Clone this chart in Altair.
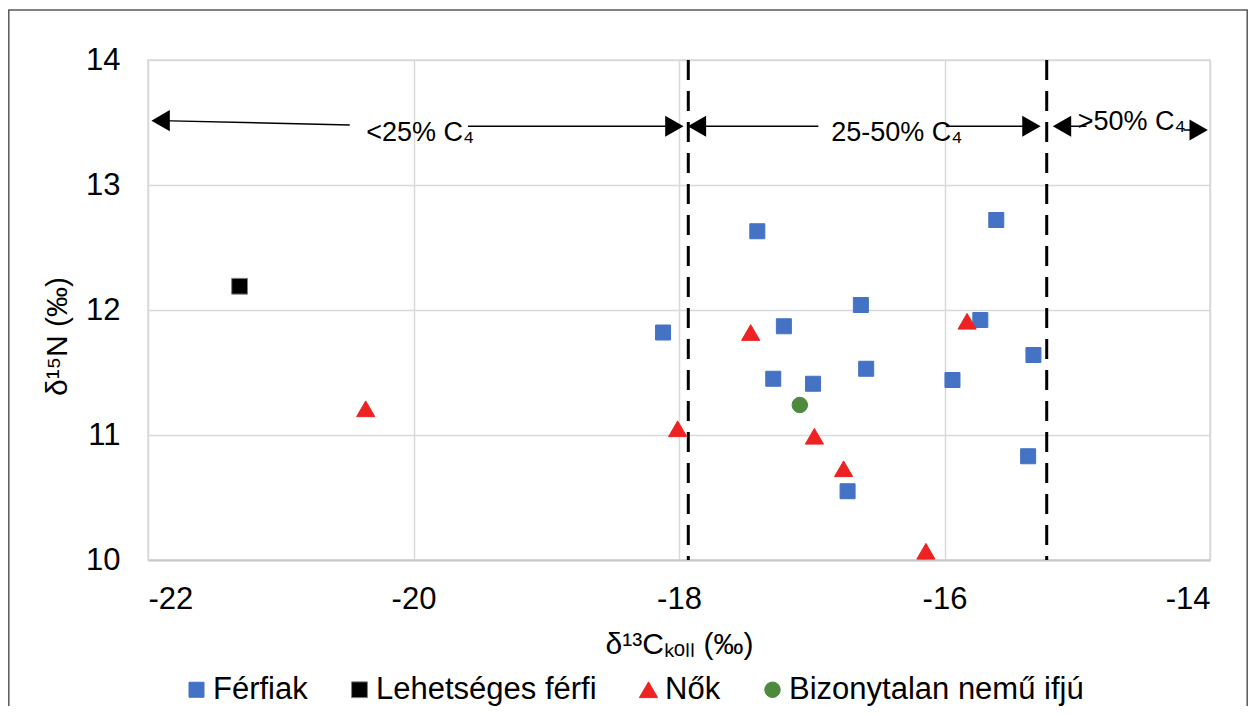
import altair as alt
import pandas as pd

# ---- data ----
groups = ["Férfiak", "Lehetséges férfi", "Nők", "Bizonytalan nemű ifjú"]

ferfiak_x = [-18.12, -17.41, -17.21, -16.63, -15.73, -15.33, -17.29, -16.99, -16.59, -15.94, -15.37, -16.73, -15.61]
ferfiak_y = [11.82, 12.63, 11.87, 12.04, 11.92, 11.64, 11.45, 11.41, 11.53, 11.44, 10.83, 10.55, 12.72]
lehetseges_x = [-21.31]
lehetseges_y = [12.19]
nok_x = [-17.46, -15.83, -18.01, -16.98, -16.76, -16.14, -20.36]
nok_y = [11.82, 11.91, 11.05, 10.99, 10.73, 10.07, 11.21]
bizonytalan_x = [-17.09]
bizonytalan_y = [11.24]

boundary_x = [-17.93, -15.23]

# arrows (data coordinates)
arrow_x1 = [-21.91, -19.59, -17.86, -15.99, -15.12, -14.20]
arrow_y1 = [13.515, 13.47, 13.47, 13.47, 13.47, 13.44]
arrow_x2 = [-20.48, -18.03, -16.95, -15.35, -14.93, -14.08]
arrow_y2 = [13.48, 13.47, 13.47, 13.47, 13.47, 13.44]
head_x = [-21.905, -18.035, -17.865, -15.345, -15.115, -14.085]
head_y = [13.515, 13.47, 13.47, 13.47, 13.47, 13.44]
head_dir = ["left", "right", "left", "right", "left", "right"]

zone_labels = ["<25% C₄", "25-50% C₄", ">50% C₄"]
zone_x = [-19.95, -16.36, -14.59]
zone_y = [13.356, 13.356, 13.44]

x_ticks = [-22, -20, -18, -16, -14]
y_ticks = [10, 11, 12, 13, 14]

# ---- tables ----
rows = []
for g, xs, ys in [(groups[0], ferfiak_x, ferfiak_y), (groups[1], lehetseges_x, lehetseges_y),
                  (groups[2], nok_x, nok_y), (groups[3], bizonytalan_x, bizonytalan_y)]:
    for a, b in zip(xs, ys):
        rows.append({"x": a, "y": b, "group": g})
pts = pd.DataFrame(rows)
pts["order"] = pts["group"].map({g: i for i, g in enumerate(groups)})

arrows = pd.DataFrame({"x": arrow_x1, "y": arrow_y1, "x2": arrow_x2, "y2": arrow_y2})
heads = pd.DataFrame({"x": head_x, "y": head_y, "dir": head_dir})
zones = pd.DataFrame({"x": zone_x, "y": zone_y, "label": zone_labels})
bounds = pd.DataFrame({"x": boundary_x})

FONT = "Liberation Sans"
xscale = alt.Scale(domain=[-22, -14], nice=False, zero=False)
yscale = alt.Scale(domain=[10, 14], nice=False, zero=False)

xaxis = alt.Axis(values=x_ticks, labelExpr="datum.value + ''", labelPadding=24,
                 title="δ¹³Cₖₒₗₗ (‰)", titleX=531, titleY=93, titleAlign="center",
                 titleBaseline="alphabetic", grid=True)
yaxis = alt.Axis(values=y_ticks, labelExpr="datum.value + ''", labelPadding=28,
                 title="δ¹⁵N (‰)", titleAngle=-90, titleX=-91, titleY=276,
                 titleAlign="center", titleBaseline="middle", grid=True, domain=False)


def X(f="x"):
    return alt.X(f + ":Q", scale=xscale, axis=xaxis)


def Y(f="y"):
    return alt.Y(f + ":Q", scale=yscale, axis=yaxis)


frame = alt.Chart(pd.DataFrame({"a": [0]})).mark_rect(
    fillOpacity=0, stroke="#595959", strokeWidth=1.5
).encode(x=alt.value(-139.2), x2=alt.value(1099.2), y=alt.value(-50), y2=alt.value(720))

dashed = alt.Chart(bounds).mark_rule(color="black", strokeWidth=3, strokeDash=[20, 11]).encode(x=X())

leg = alt.Legend(
    orient="none", legendX=33, legendY=614, direction="horizontal", columns=4, title=None,
    labelFont=FONT, labelFontSize=31, labelColor="black", labelOffset=1, columnPadding=36,
    padding=0, labelLimit=0, symbolStrokeWidth=1
)

points = alt.Chart(pts).mark_point(filled=True, opacity=1, strokeWidth=1).encode(
    x=X(), y=Y(),
    fill=alt.Fill("group:N", scale=alt.Scale(domain=groups, range=["#4472C4", "#000000", "#EE2222", "#4E8A3E"]), legend=leg),
    stroke=alt.Stroke("group:N", scale=alt.Scale(domain=groups, range=["#4472C4", "#808080", "#EE2222", "#4E8A3E"]), legend=leg),
    shape=alt.Shape("group:N", scale=alt.Scale(domain=groups, range=["square", "square", "triangle-up", "circle"]), legend=leg),
    size=alt.Size("group:N", scale=alt.Scale(type="ordinal", domain=groups, range=[225, 250, 330, 240]), legend=leg),
    order=alt.Order("order:Q"),
)

lines = alt.Chart(arrows).mark_rule(color="black", strokeWidth=1.5).encode(
    x=X(), y=Y(), x2="x2:Q", y2="y2:Q"
)

heads_l = alt.Chart(heads).transform_filter("datum.dir == 'left'").mark_point(
    shape="triangle-left", filled=True, color="black", size=450, opacity=1
).encode(x=X(), y=Y())

heads_r = alt.Chart(heads).transform_filter("datum.dir == 'right'").mark_point(
    shape="triangle-right", filled=True, color="black", size=450, opacity=1
).encode(x=X(), y=Y())

texts = alt.Chart(zones).mark_text(
    font=FONT, fontSize=27, color="black", align="center", baseline="alphabetic"
).encode(x=X(), y=Y(), text="label:N")

chart = alt.layer(frame, dashed, points, lines, heads_l, heads_r, texts).properties(
    width=1062, height=500,
    autosize=alt.AutoSizeParams(type="none"),
    padding={"left": 140, "top": 52, "right": 38, "bottom": 146},
    background="white",
).configure_view(stroke="#D9D9D9", strokeWidth=1.5).configure_axis(
    gridColor="#D9D9D9", gridWidth=1.5, ticks=False, tickSize=0,
    labelFont=FONT, labelFontSize=31, labelColor="black",
    titleFont=FONT, titleFontSize=30, titleFontWeight="normal", titleColor="black",
    domainColor="#C8C8C8", domainWidth=2,
).configure_axisY(domain=False)

chart.save("out.html", embed_options={"renderer": "svg", "actions": False})
